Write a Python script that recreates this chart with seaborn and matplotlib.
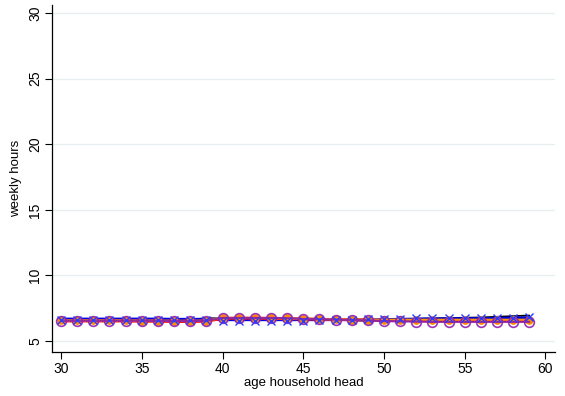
import numpy as np
import pandas as pd
import matplotlib
matplotlib.use("Agg")
import matplotlib.pyplot as plt
import seaborn as sns

# Age of household head
ages = list(range(30, 60))

# Weekly hours by age, one list per series
hours_black = [6.60, 6.60, 6.60, 6.60, 6.60, 6.60, 6.60, 6.60, 6.62, 6.75,
               6.72, 6.72, 6.72, 6.72, 6.70, 6.70, 6.70, 6.65, 6.58, 6.55,
               6.55, 6.65, 6.70, 6.72, 6.75, 6.78, 6.80, 6.85, 6.90, 6.95]
hours_blue = [6.68, 6.68, 6.68, 6.68, 6.68, 6.68, 6.68, 6.66, 6.66, 6.66,
              6.62, 6.62, 6.62, 6.62, 6.62, 6.62, 6.62, 6.62, 6.62, 6.62,
              6.64, 6.66, 6.68, 6.70, 6.70, 6.72, 6.72, 6.74, 6.76, 6.78]
hours_cross = [6.62, 6.62, 6.62, 6.62, 6.62, 6.62, 6.60, 6.58, 6.58, 6.58,
               6.52, 6.52, 6.52, 6.52, 6.52, 6.55, 6.58, 6.60, 6.62, 6.65,
               6.65, 6.68, 6.72, 6.74, 6.74, 6.74, 6.74, 6.76, 6.78, 6.80]
hours_red = [6.52, 6.52, 6.52, 6.52, 6.52, 6.50, 6.50, 6.48, 6.48, 6.50,
             6.72, 6.74, 6.74, 6.72, 6.70, 6.68, 6.66, 6.64, 6.62, 6.60,
             6.58, 6.58, 6.56, 6.56, 6.56, 6.56, 6.56, 6.56, 6.56, 6.56]
hours_orange = [6.58, 6.58, 6.58, 6.58, 6.58, 6.56, 6.56, 6.54, 6.54, 6.56,
                6.76, 6.76, 6.76, 6.75, 6.72, 6.70, 6.68, 6.66, 6.64, 6.62,
                6.62, 6.62, 6.62, 6.62, 6.62, 6.62, 6.62, 6.62, 6.62, 6.62]
hours_purple = [6.55, 6.55, 6.55, 6.55, 6.55, 6.55, 6.53, 6.52, 6.52, 6.55,
                6.76, 6.76, 6.76, 6.76, 6.74, 6.68, 6.66, 6.64, 6.60, 6.58,
                6.52, 6.50, 6.48, 6.46, 6.46, 6.46, 6.46, 6.46, 6.46, 6.46]

x_ticks = [30, 35, 40, 45, 50, 55, 60]
y_ticks = [5, 10, 15, 20, 25, 30]

sns.set_theme(style="white")
plt.rcParams["font.family"] = ["Liberation Sans", "DejaVu Sans"]
plt.rcParams["text.color"] = "black"
plt.rcParams["axes.labelcolor"] = "black"
plt.rcParams["xtick.color"] = "black"
plt.rcParams["ytick.color"] = "black"

fig = plt.figure(figsize=(5.65, 3.96), dpi=100)
ax = fig.add_axes([0.0915, 0.111, 0.891, 0.876])

df = pd.DataFrame({
    "age": ages,
    "black": hours_black,
    "blue": hours_blue,
    "cross": hours_cross,
    "red": hours_red,
    "orange": hours_orange,
    "purple": hours_purple,
})

for yv in y_ticks:
    ax.axhline(yv, color="#e6eef0", lw=0.9, zorder=0)

sns.lineplot(data=df, x="age", y="black", ax=ax, color="black", lw=1.2, zorder=3)
sns.lineplot(data=df, x="age", y="blue", ax=ax, color="#0000e0", lw=2.0, zorder=4)
sns.lineplot(data=df, x="age", y="red", ax=ax, color="#ff1a00", lw=2.0, zorder=4)
sns.lineplot(data=df, x="age", y="orange", ax=ax, color="#ff9900", lw=1.6, zorder=5,
             marker="o", markersize=5.5, markerfacecolor="#ff8c00",
             markeredgecolor="#ff8c00")
sns.lineplot(data=df, x="age", y="purple", ax=ax, color="#8b1fa8", lw=1.6, zorder=6,
             marker="o", markersize=7, markerfacecolor="none",
             markeredgecolor="#9020b0", markeredgewidth=1.2, alpha=0.9)
sns.lineplot(data=df, x="age", y="cross", ax=ax, color="#2a3cff", lw=0,
             marker="x", markersize=6, markeredgewidth=1.0, zorder=7,
             markeredgecolor="#2a3cff")

ax.set_xlim(29.42, 60.6)
ax.set_ylim(4.16, 30.6)
ax.set_xticks(x_ticks)
ax.set_yticks(y_ticks)
ax.set_xticklabels([str(t) for t in x_ticks], fontsize=10)
ax.set_yticklabels([str(t) for t in y_ticks], fontsize=10, rotation=90, va="center")
ax.set_xlabel("age household head", fontsize=9.5, labelpad=1)
ax.set_ylabel("weekly hours", fontsize=9.5, labelpad=4)

ax.tick_params(axis="both", direction="out", length=5, width=0.8, color="black",
               bottom=True, left=True, pad=2, labelcolor="black")
for side in ["top", "right"]:
    ax.spines[side].set_visible(False)
for side in ["left", "bottom"]:
    ax.spines[side].set_color("black")
    ax.spines[side].set_linewidth(0.9)

fig.savefig("out.png", dpi=100, facecolor="white")
